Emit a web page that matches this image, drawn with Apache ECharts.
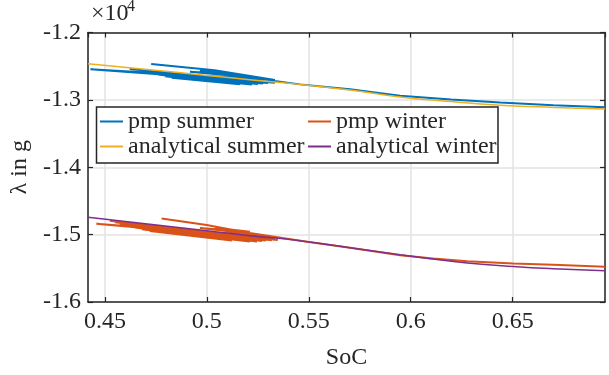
<!DOCTYPE html>
<html>
<head>
<meta charset="utf-8">
<script src="https://cdn.jsdelivr.net/npm/echarts@6/dist/echarts.min.js"></script>
<style>html,body{margin:0;padding:0;background:#fff}#c{width:609px;height:375px}</style>
</head>
<body>
<div id="c"></div>
<script>
// ---- data (SoC, lambda in g) ----
const xMin = 0.4417, xMax = 0.6953;
const yMin = -16000, yMax = -12000, yStep = 1000;
const seriesNames = ['pmp summer', 'pmp winter', 'analytical summer', 'analytical winter'];

const pmpSummerSoc = [0.4727, 0.5038, 0.5334, 0.4429, 0.5334, 0.4622, 0.5300, 0.4671, 0.5275, 0.4720,
  0.5250, 0.4759, 0.5221, 0.4794, 0.5162, 0.4828, 0.5211, 0.4917, 0.5187, 0.4966,
  0.5457, 0.5702, 0.5948, 0.6198, 0.6439, 0.6700, 0.6953];
const pmpSummerLambda = [-12467, -12560, -12705, -12545, -12745, -12542, -12750, -12571, -12757, -12600,
  -12764, -12625, -12771, -12650, -12768, -12673, -12666, -12583, -12630, -12568,
  -12770, -12843, -12940, -12995, -13039, -13080, -13110];

const pmpWinterSoc = [0.4778, 0.4999, 0.5334, 0.4458, 0.5348, 0.4524, 0.5319, 0.4549, 0.5290, 0.4573,
  0.5270, 0.4612, 0.5246, 0.4647, 0.5211, 0.4681, 0.5123, 0.4720, 0.5236, 0.4966,
  0.5211, 0.5040, 0.5500, 0.5702, 0.5948, 0.6110, 0.6277, 0.6503, 0.6699, 0.6953];
const pmpWinterLambda = [-14759, -14856, -15045, -14837, -15079, -14793, -15082, -14816, -15087, -14839,
  -15095, -14867, -15101, -14894, -15103, -14920, -15088, -14948, -14996, -14902,
  -14958, -14899, -15110, -15195, -15307, -15355, -15394, -15427, -15448, -15477];

const anaSummerSoc = [0.4417, 0.4720, 0.5000, 0.5211, 0.5457, 0.5702, 0.5948, 0.6198, 0.6439, 0.6700, 0.6953];
const anaSummerLambda = [-12465, -12552, -12638, -12700, -12770, -12855, -12956, -13025, -13078, -13112, -13137];

const anaWinterSoc = [0.4417, 0.4720, 0.5000, 0.5211, 0.5457, 0.5702, 0.5948, 0.6110, 0.6277, 0.6503, 0.6699, 0.6953];
const anaWinterLambda = [-14741, -14846, -14943, -15016, -15090, -15195, -15300, -15362, -15420, -15472, -15505, -15535];

const colors = ['#0072BD', '#D95319', '#EDB120', '#7E2F8E'];

function pairs(xs, ys) { return xs.map((x, i) => [x, ys[i]]); }

const FONT = 'Liberation Serif';
const TXT = '#262626';

const chart = echarts.init(document.getElementById('c'), null, {renderer: 'canvas'});

const axisLineStyle = {color: TXT, width: 1.5};
const mkSeries = (name, data, color, width, smooth, z) => ({
  type: 'line', name, data, showSymbol: false, symbol: 'none', smooth,
  lineStyle: {color, width}, itemStyle: {color}, z, animation: false
});

chart.setOption({
  animation: false,
  grid: {left: 88, top: 32.5, right: 4, bottom: 67.3, containLabel: false},
  xAxis: [{
    type: 'value', min: xMin, max: xMax, splitNumber: 5,
    name: 'SoC', nameLocation: 'middle', nameGap: 44,
    nameTextStyle: {fontFamily: FONT, fontSize: 24, color: TXT},
    axisLine: {show: true, lineStyle: axisLineStyle},
    axisTick: {show: true, inside: true, length: 5, lineStyle: {color: TXT, width: 1.2}},
    axisLabel: {fontFamily: FONT, fontSize: 24, color: TXT, margin: 8, showMinLabel: false, showMaxLabel: false},
    splitLine: {show: true, lineStyle: {color: '#e3e3e3', width: 1.5}}
  }, {
    type: 'value', min: xMin, max: xMax, splitNumber: 5, position: 'top',
    axisLine: {show: true, lineStyle: axisLineStyle},
    axisTick: {show: true, inside: true, length: 5, lineStyle: {color: TXT, width: 1.2}},
    axisLabel: {show: false}, splitLine: {show: false}
  }],
  yAxis: [{
    type: 'value', min: yMin, max: yMax, interval: yStep,
    name: 'λ in g', nameLocation: 'middle', nameGap: 44, nameRotate: 90,
    nameTextStyle: {fontFamily: FONT, fontSize: 24, color: TXT},
    axisLine: {show: true, lineStyle: axisLineStyle},
    axisTick: {show: true, inside: true, length: 5, lineStyle: {color: TXT, width: 1.2}},
    axisLabel: {fontFamily: FONT, fontSize: 24, color: TXT, margin: 7, formatter: v => (v / 10000).toFixed(1)},
    splitLine: {show: true, lineStyle: {color: '#e3e3e3', width: 1.5}}
  }, {
    type: 'value', min: yMin, max: yMax, interval: yStep, position: 'right',
    axisLine: {show: true, lineStyle: axisLineStyle},
    axisTick: {show: true, inside: true, length: 5, lineStyle: {color: TXT, width: 1.2}},
    axisLabel: {show: false}, splitLine: {show: false}
  }],
  legend: [{
    data: [seriesNames[0], seriesNames[2]], orient: 'vertical', left: 100, top: 109, padding: 0,
    itemGap: 0, itemWidth: 23, itemHeight: 2, icon: 'rect', z: 12,
    textStyle: {fontFamily: FONT, fontSize: 24, color: TXT, lineHeight: 25}
  }, {
    data: [seriesNames[1], seriesNames[3]], orient: 'vertical', left: 308, top: 109, padding: 0,
    itemGap: 0, itemWidth: 23, itemHeight: 2, icon: 'rect', z: 12,
    textStyle: {fontFamily: FONT, fontSize: 24, color: TXT, lineHeight: 25}
  }],
  graphic: [
    {type: 'rect', z: 10, shape: {x: 96.5, y: 107, width: 401.5, height: 56},
     style: {fill: '#fff', stroke: TXT, lineWidth: 1.5}},
    {type: 'text', z: 10, x: 91, y: 2, style: {text: '×10', fontFamily: FONT, fontSize: 24, fill: TXT}},
    {type: 'text', z: 10, x: 127, y: -1, style: {text: '4', fontFamily: FONT, fontSize: 16, fill: TXT}}
  ],
  series: [
    mkSeries(seriesNames[0], pairs(pmpSummerSoc, pmpSummerLambda), colors[0], 2, false, 2),
    mkSeries(seriesNames[1], pairs(pmpWinterSoc, pmpWinterLambda), colors[1], 2, false, 2),
    mkSeries(seriesNames[2], pairs(anaSummerSoc, anaSummerLambda), colors[2], 1.5, true, 3),
    mkSeries(seriesNames[3], pairs(anaWinterSoc, anaWinterLambda), colors[3], 1.5, true, 3)
  ]
});
</script>
</body>
</html>
